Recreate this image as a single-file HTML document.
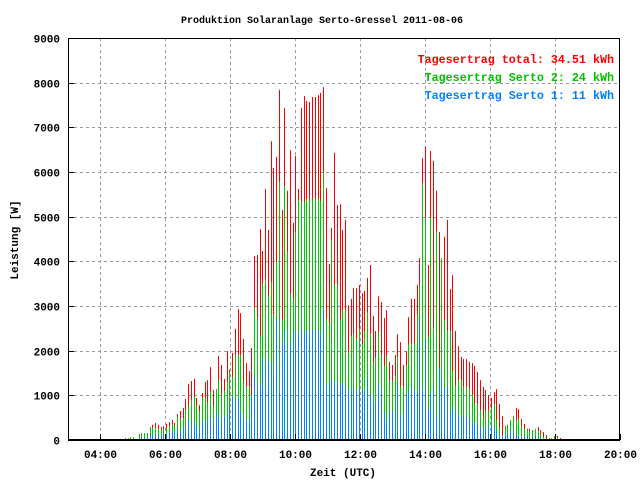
<!DOCTYPE html>
<html><head><meta charset="utf-8">
<style>
html,body{margin:0;padding:0;background:#fff;}
svg{display:block;font-family:"Liberation Mono",monospace;font-weight:bold;}
</style></head>
<body>
<svg id="chart" width="640" height="480" viewBox="0 0 640 480" xmlns="http://www.w3.org/2000/svg">
<rect x="0" y="0" width="640" height="480" fill="#fff"/>
<text x="322" y="23" font-size="10" text-anchor="middle">Produktion Solaranlage Serto-Gressel 2011-08-06</text>
<g id="grid"></g>
<g id="bars"></g>
<rect x="68.5" y="38.5" width="551" height="401.5" fill="none" stroke="#000" stroke-width="1"/>
<line x1="68" y1="440" x2="620" y2="440" stroke="#000" stroke-width="2"/>
<g id="yticks"></g>
<g id="xticks"></g>
<text transform="translate(18,240) rotate(-90)" font-size="11" text-anchor="middle">Leistung [W]</text>
<text x="343" y="476" font-size="11" text-anchor="middle">Zeit (UTC)</text>
<g font-size="11.7" text-anchor="end">
<text x="614" y="63" fill="#ff0000">Tagesertrag total: 34.51 kWh</text>
<text x="614" y="81" fill="#00c000">Tagesertrag Serto 2: 24 kWh</text>
<text x="614" y="99" fill="#0080ff">Tagesertrag Serto 1: 11 kWh</text>
</g>
</svg>
<script>
const yTicks = [0,1000,2000,3000,4000,5000,6000,7000,8000,9000];
const xTickLabels = ["04:00","06:00","08:00","10:00","12:00","14:00","16:00","18:00","20:00"];
const xTickHours = [4,6,8,10,12,14,16,18,20];
const startMinute = 280;
const totalW = [22,45,45,67,67,22,134,157,157,157,290,340,380,340,290,310,360,400,450,380,580,650,720,920,1250,1320,1370,940,780,1050,1300,1340,1630,1120,
1140,1880,1680,1370,1990,1570,1950,2490,2930,2840,2260,1720,1540,2060,4120,4140,4720,4230,5620,4700,6690,6090,6340,7840,5150,7430,5580,6490,4860,6360,5620,7430,7700,7590,7570,7680,7680,
7720,7770,7900,5640,3940,4750,6430,5260,5280,4700,4930,3020,3160,3400,3400,3470,3290,3340,3630,3920,2780,2440,3220,3090,2730,2910,1750,1680,1900,2370,2190,1680,1990,2750,3160,
3160,3470,4070,6310,6560,3920,6470,6250,5580,4660,2980,4550,4930,3380,3690,2440,2100,1860,1810,1810,1750,1720,1660,1520,1340,1190,1120,1010,940,1070,1140,810,540,310,310,380,
490,720,690,470,360,250,250,200,250,290,220,180,110,45,45,45,90,45,0,0,20];
const serto2W = [22,45,45,67,67,22,134,157,157,157,290,270,270,250,220,250,270,310,360,310,510,470,490,670,760,900,960,760,630,940,940,830,1080,750,
1140,1320,1010,1100,1300,1520,1410,1900,1900,1900,1320,1190,1190,1010,2960,2730,2330,3490,3600,3220,3540,2800,3990,5780,2690,5690,4210,3270,3130,4660,5370,5330,5330,5400,5400,5400,5400,
5400,5350,6000,2710,2600,4480,3470,3470,2690,2910,2910,1950,2330,2370,2260,2490,2150,2440,2870,2370,1720,1840,2420,1880,1660,1880,1320,1320,1430,1860,1210,1190,1660,2130,2150,
2150,2800,3450,5750,4970,2310,4970,2510,4660,1570,4070,2690,2440,2440,1540,1210,1340,1320,1190,1190,1120,1010,810,810,670,490,650,650,720,810,450,270,110,290,340,
450,540,430,470,310,250,220,200,220,250,200,130,70,45,45,45,90,45,0,0,20];
const serto1W = [0,0,0,0,0,0,45,60,60,60,130,130,110,110,90,110,130,160,180,150,250,220,280,310,420,450,400,310,220,420,420,400,500,310,
600,520,490,520,560,670,960,900,930,600,490,490,400,960,1410,1230,1190,1840,1570,1750,1720,1570,2690,1050,2170,2460,1840,2130,2460,2310,2390,2460,2390,2460,2460,2460,2460,
2460,2350,2910,1230,1270,1340,1300,1300,1230,1270,1190,1120,1080,1160,1080,1120,1160,1080,1410,1010,780,860,1230,1050,600,420,640,640,600,1230,560,560,1010,1120,1160,
1120,1050,2690,1120,2240,670,1050,1160,490,1610,1340,1160,1190,600,750,600,560,520,560,520,450,380,400,340,290,270,270,290,340,270,190,70,110,110,150,
220,220,110,90,75,75,75,40,75,60,40,40,20,20,20,20,0,0,0,0,0];

const svgNS = "http://www.w3.org/2000/svg";
const X0 = 68, X1 = 620, Y0 = 440, Y1 = 38;
const H0 = 3, H1 = 20, V1 = 9000;
const xOfHour = h => X0 + (h - H0) / (H1 - H0) * (X1 - X0);
const yOf = v => Y0 - v / V1 * (Y0 - Y1);
const minutesPerBar = 5.085;
const xOfIndex = i => xOfHour((startMinute + i * minutesPerBar) / 60);

const grid = document.getElementById('grid');
const yt = document.getElementById('yticks');
const xt = document.getElementById('xticks');
function mk(tag, attrs, parent) {
  const el = document.createElementNS(svgNS, tag);
  for (const k in attrs) el.setAttribute(k, attrs[k]);
  parent.appendChild(el);
  return el;
}
yTicks.forEach(v => {
  const y = Math.round(yOf(v)) + 0.5;
  if (v > 0 && v < 9000) {
    const g = mk('line', {x1: X0, x2: X1, y1: y, y2: y, stroke: '#999', 'stroke-dasharray': '3,3'}, grid);
    
    
  }
  const t = mk('line', {x1: X0, x2: X0 + 6, y1: y, y2: y, stroke: '#000'}, yt);
  
  
  const lb = mk('text', {x: 60, y: y + 4, 'font-size': 11, 'text-anchor': 'end'}, yt);
  
  
  lb.textContent = v;
});
xTickHours.forEach((h, i) => {
  const x = Math.round(xOfHour(h)) + 0.5;
  if (h < 20) {
    const g = mk('line', {x1: x, x2: x, y1: Y1, y2: Y0, stroke: '#999', 'stroke-dasharray': '3,3'}, grid);
    
    
  }
  const t = mk('line', {x1: x, x2: x, y1: Y0, y2: Y0 - 6, stroke: '#000'}, xt);
  
  
  const lb = mk('text', {x: x, y: 458, 'font-size': 11, 'text-anchor': 'middle'}, xt);
  
  
  lb.textContent = xTickLabels[i];
});
const bars = document.getElementById('bars');
const series = [[totalW, '#ff0000', 'bar-total'], [serto2W, '#00c800', 'bar-serto-2'], [serto1W, '#0080ff', 'bar-serto-1']];
series.forEach(s => {
  s[0].forEach((v, i) => {
    if (v <= 0) return;
    const x = Math.round(xOfIndex(i));
    const y = yOf(v);
    const r = mk('rect', {x: x, y: y, width: 1, height: Y0 - y, fill: s[1]}, bars);
    
    
  });
});
</script>
</body></html>
